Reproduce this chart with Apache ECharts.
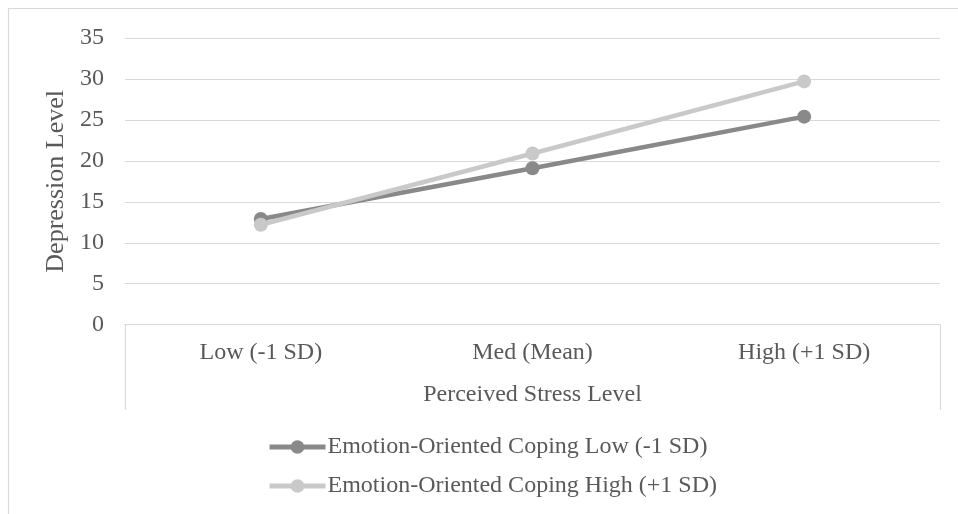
<!DOCTYPE html>
<html>
<head>
<meta charset="utf-8">
<script src="https://cdn.jsdelivr.net/npm/echarts@6/dist/echarts.min.js"></script>
<style>
  html, body { margin: 0; padding: 0; background: #fff; }
  #chart { width: 958px; height: 514px; }
</style>
</head>
<body>
<div id="chart"></div>
<script>
// Stress levels on the x axis
const categories = ['Low (-1 SD)', 'Med (Mean)', 'High (+1 SD)'];
// Predicted depression for low and high emotion-oriented coping
const copingLow = [12.9, 19.1, 25.4];
const copingHigh = [12.2, 20.9, 29.7];
const seriesNames = ['Emotion-Oriented Coping Low (-1 SD)', 'Emotion-Oriented Coping High (+1 SD)'];
// Depression scale
const yMin = 0, yMax = 35, yStep = 5;

const FONT = 'Liberation Serif';
const TEXT = '#595959';
const RULE = '#d9d9d9';
const DARK = '#898989';
const LIGHT = '#c9c9c9';

const chart = echarts.init(document.getElementById('chart'), null, { renderer: 'canvas' });

chart.setOption({
  backgroundColor: '#fff',
  animation: false,
  textStyle: { fontFamily: FONT, color: TEXT },
  graphic: [{
    type: 'rect',
    shape: { x: 8.5, y: 8.5, width: 1200, height: 800 },
    style: { fill: null, stroke: RULE, lineWidth: 1.2 },
    silent: true
  }],
  grid: { left: 125, right: 18, top: 38, bottom: 189.3, containLabel: false },
  legend: {
    orient: 'vertical',
    left: 262,
    top: 430,
    itemWidth: 56,
    itemHeight: 17,
    itemGap: 15,
    lineStyle: { width: 5 },
    textStyle: { fontFamily: FONT, fontSize: 24, color: TEXT, padding: [0, 0, 0, -3], lineHeight: 24 },
    data: [
      { name: seriesNames[0], itemStyle: { color: DARK }, lineStyle: { color: DARK, width: 5 } },
      { name: seriesNames[1], itemStyle: { color: LIGHT }, lineStyle: { color: LIGHT, width: 5 } }
    ]
  },
  xAxis: [{
    type: 'category',
    data: categories,
    position: 'bottom',
    boundaryGap: true,
    axisLine: { show: true, lineStyle: { color: RULE, width: 1 } },
    axisTick: { show: false },
    axisLabel: { fontFamily: FONT, fontSize: 24, color: TEXT, margin: 16, lineHeight: 24 },
    name: 'Perceived Stress Level',
    nameLocation: 'middle',
    nameGap: 58,
    nameTextStyle: { fontFamily: FONT, fontSize: 24, color: TEXT, lineHeight: 24 }
  }, {
    type: 'category',
    data: [''],
    position: 'bottom',
    boundaryGap: true,
    axisLine: { show: true, lineStyle: { color: RULE, width: 1 } },
    axisTick: { show: true, length: 85, lineStyle: { color: RULE, width: 1.2 } },
    axisLabel: { show: false }
  }],
  yAxis: {
    type: 'value',
    min: yMin,
    max: yMax,
    interval: yStep,
    axisLine: { show: false },
    axisTick: { show: false },
    splitLine: { show: true, lineStyle: { color: RULE, width: 1.2 } },
    axisLabel: { fontFamily: FONT, fontSize: 24, color: TEXT, margin: 21 },
    name: 'Depression Level',
    nameLocation: 'middle',
    nameGap: 47,
    nameTextStyle: { fontFamily: FONT, fontSize: 26, color: TEXT }
  },
  series: [{
    name: seriesNames[0],
    type: 'line',
    data: copingLow,
    xAxisIndex: 0,
    symbol: 'circle',
    symbolSize: 14,
    itemStyle: { color: DARK },
    lineStyle: { color: DARK, width: 4.5 },
    z: 3
  }, {
    name: seriesNames[1],
    type: 'line',
    data: copingHigh,
    xAxisIndex: 0,
    symbol: 'circle',
    symbolSize: 14,
    itemStyle: { color: LIGHT },
    lineStyle: { color: LIGHT, width: 4.5 },
    z: 4
  }]
});
</script>
</body>
</html>
